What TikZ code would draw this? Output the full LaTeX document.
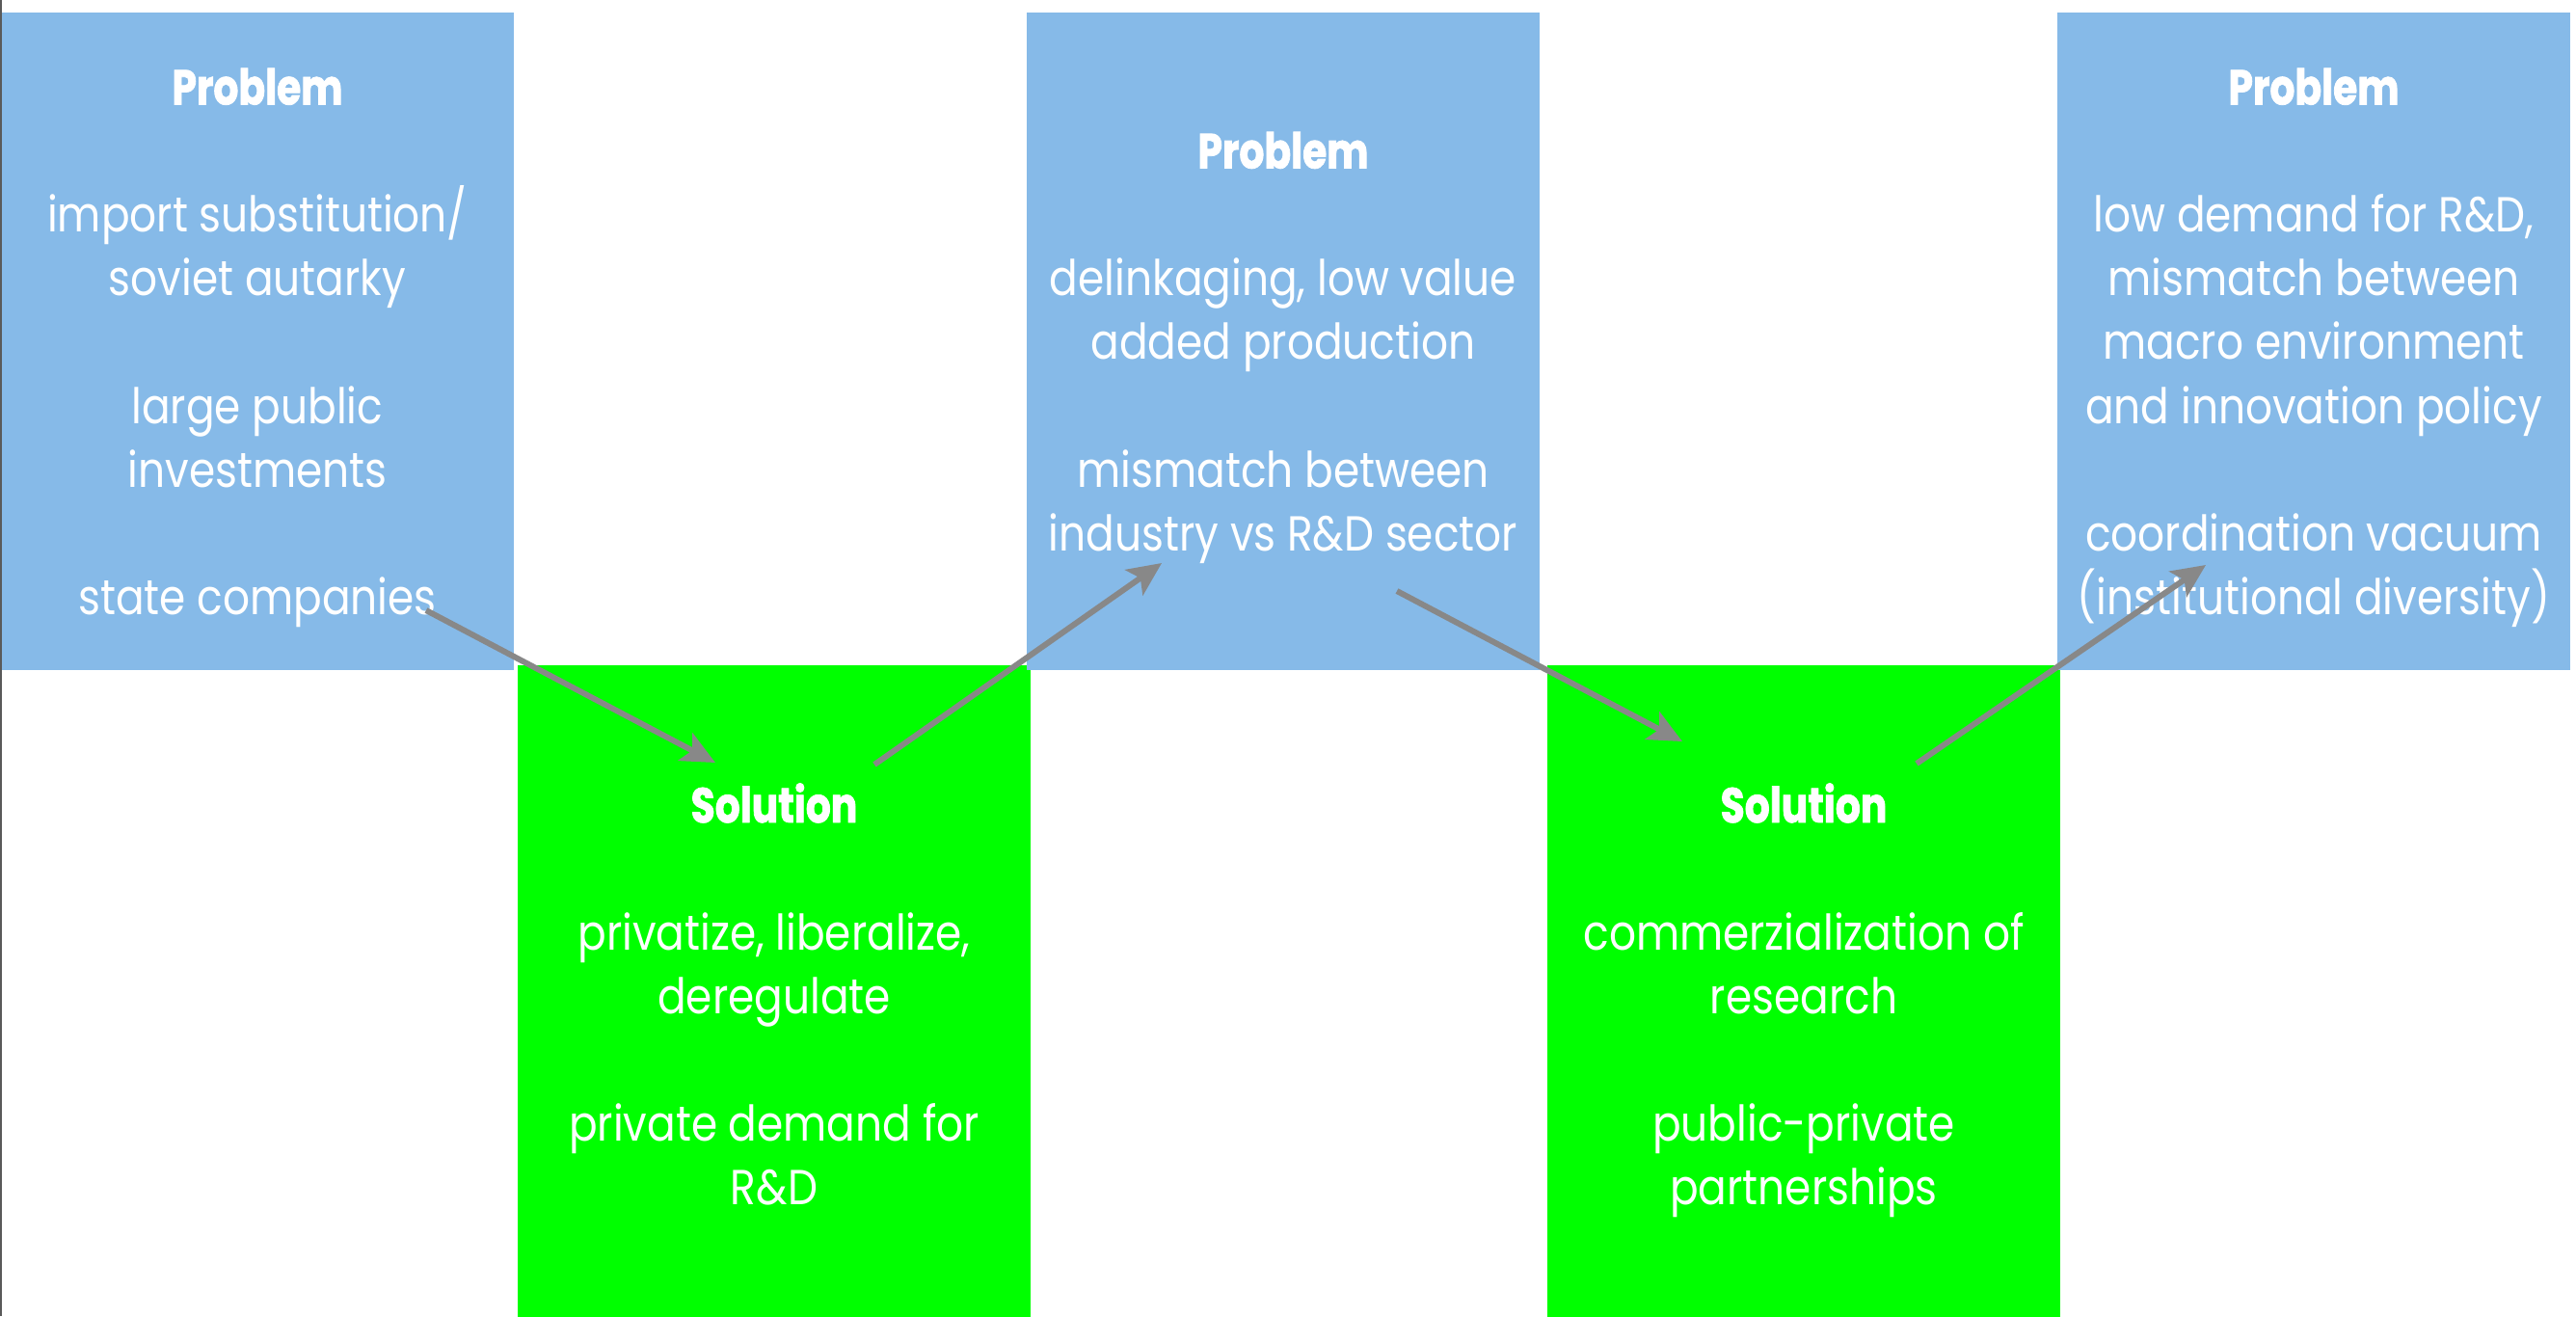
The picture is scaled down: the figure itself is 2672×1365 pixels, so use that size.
\documentclass[tikz,border=0pt]{standalone}
\usepackage{fontspec}
\setmainfont{Poppins}[FakeStretch=0.86]
\newfontfamily\titlefont{Poppins}[FakeStretch=0.8, BoldFeatures={FakeBold=1.5}]
\usetikzlibrary{arrows.meta}
\definecolor{probblue}{RGB}{134,186,232}
\definecolor{solgreen}{RGB}{0,255,0}
\definecolor{arrowgray}{RGB}{136,136,136}
\definecolor{edgegray}{RGB}{90,90,90}
\newcommand\boxfont{\fontsize{14.5pt}{18.8pt}\selectfont}
\newcommand\boxtitle[1]{{\titlefont\bfseries #1}}
\newcommand\lastline[1]{\raisebox{0pt}[\height][0pt]{#1}}
\begin{document}
\begin{tikzpicture}[x=0.01cm,y=-0.01cm,
  basebox/.style={inner sep=0pt, minimum width=5.32cm, minimum height=6.82cm,
    align=center, text=white, font=\boxfont},
  probbox/.style={basebox, fill=probblue},
  solbox/.style={basebox, fill=solgreen},
  flow/.style={draw=arrowgray, line width=0.06cm,
    -{Stealth[length=0.35cm,width=0.32cm,inset=0.08cm]}}]
\useasboundingbox (0,0) rectangle (2672,1365);
\clip (0,0) rectangle (2672,1365);
\fill[white] (0,0) rectangle (2672,1365);

% solution boxes
\node[solbox] (s1) at (803,1031) {\boxtitle{Solution}\\[18.8pt]
  privatize, liberalize,\\ deregulate\\[18.8pt]
  private demand for\\ \lastline{R\&D}};
\node[solbox] (s2) at (1871,1031) {\boxtitle{Solution}\\[18.8pt]
  commerzialization of\\ research\\[18.8pt]
  public-private\\ \lastline{partnerships}};

% problem boxes
\node[probbox] (p1) at (267,354) {\boxtitle{Problem}\\[18.8pt]
  import substitution/\\ soviet autarky\\[18.8pt]
  large public\\ investments\\[18.8pt]
  \lastline{state companies}};
\node[probbox] (p2) at (1331,354) {\boxtitle{Problem}\\[18.8pt]
  delinkaging, low value\\ added production\\[18.8pt]
  mismatch between\\ \lastline{industry vs R\&D sector}};
\node[probbox] (p3) at (2400,354) {\boxtitle{Problem}\\[18.8pt]
  low demand for R\&D,\\ mismatch between\\ macro environment\\ and innovation policy\\[18.8pt]
  coordination vacuum\\ \lastline{(institutional diversity)}};

% connector end points
\coordinate (a1s) at (442,633);
\coordinate (a1e) at (742,791);
\coordinate (a2s) at (907,793);
\coordinate (a2e) at (1205,584);
\coordinate (a3s) at (1449,613);
\coordinate (a3e) at (1745,769);
\coordinate (a4s) at (1988,792);
\coordinate (a4e) at (2288,586);

\draw[flow] (a1s) -- (a1e);
\draw[flow] (a2s) -- (a2e);
\draw[flow] (a3s) -- (a3e);
\draw[flow] (a4s) -- (a4e);

% left page edge
\draw[edgegray, line width=0.015cm] (0.75,0) -- (0.75,1365);
\end{tikzpicture}
\end{document}
